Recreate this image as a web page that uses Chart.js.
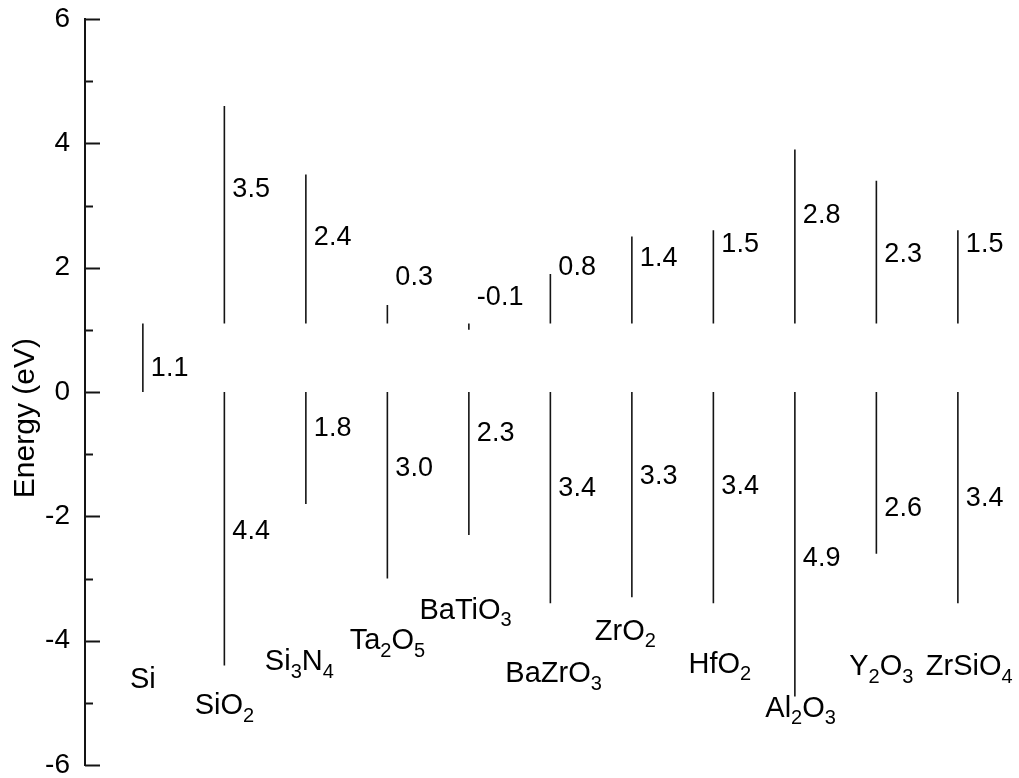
<!DOCTYPE html>
<html>
<head>
<meta charset="utf-8">
<script src="https://cdn.jsdelivr.net/npm/chart.js@4.4.1/dist/chart.umd.min.js"></script>
<style>
  body { margin: 0; background: #fff; }
  #wrap { width: 1019px; height: 778px; }
</style>
</head>
<body>
<div id="wrap"><canvas id="band-chart"></canvas></div>
<script>
    // band offsets relative to Si (eV)
    const materials = ["Si","SiO2","Si3N4","Ta2O5","BaTiO3","BaZrO3","ZrO2","HfO2","Al2O3","Y2O3","ZrSiO4"]
    const siGap = 1.1
    const cbOffset = [3.5, 2.4, 0.3, -0.1, 0.8, 1.4, 1.5, 2.8, 2.3, 1.5]
    const vbOffset = [4.4, 1.8, 3.0, 2.3, 3.4, 3.3, 3.4, 4.9, 2.6, 3.4]
    const yTicks = [-6, -4, -2, 0, 2, 4, 6]
    const yTitle = "Energy (eV)"

    // where the text sits (eV)
    const siTextAt = 0.42
    const cbTextAt = [3.29, 2.52, 1.87, 1.55, 2.03, 2.19, 2.4, 2.87, 2.24, 2.4]
    const vbTextAt = [-2.21, -0.55, -1.19, -0.63, -1.52, -1.32, -1.48, -2.65, -1.84, -1.68]
    const nameAt = [-4.6, -5.02, -4.31, -3.97, -3.48, -4.5, -3.82, -4.35, -5.06, -4.39, -4.39]
    const nameShift = [0, 0, -0.08, 0, -0.04, 0.04, -0.08, 0.08, 0.07, 0.06, 0.14]
    const titleAt = -0.42

    // build the line segments, null breaks between them
    const gapPts = [{x: 1, y: 0}, {x: 1, y: siGap}]
    const cbPts = []
    const vbPts = []
    cbOffset.forEach(function (off, i) {
        let x = i + 2
        cbPts.push({x: x, y: siGap}, {x: x, y: siGap + off}, {x: x, y: null})
        vbPts.push({x: x, y: 0}, {x: x, y: -vbOffset[i]}, {x: x, y: null})
    })

    const lineColor = "rgb(20,20,20)"
    const textColor = "rgb(0,0,0)"
    const fontFam = "'Liberation Sans', Arial, sans-serif"

    let drawFormula = function (ctx, text, cx, cy, size) {
        // digits become subscripts
        let parts = text.split(/(\d+)/).filter(function (p) { return p.length > 0 })
        let subSize = Math.round(size * 0.68)
        let total = 0
        parts.forEach(function (p) {
            ctx.font = (/\d/.test(p) ? subSize : size) + "px " + fontFam
            total += ctx.measureText(p).width
        })
        let x = cx - total / 2
        let base = cy + size * 0.358
        ctx.textAlign = "left"
        ctx.textBaseline = "alphabetic"
        parts.forEach(function (p) {
            let sub = /\d/.test(p)
            ctx.font = (sub ? subSize : size) + "px " + fontFam
            ctx.fillText(p, x, sub ? base + size * 0.26 : base)
            x += ctx.measureText(p).width
        })
    }

    const bandText = {
        id: "bandText",
        afterDatasetsDraw: function (chart) {
            const ctx = chart.ctx
            const xs = chart.scales.x
            const ys = chart.scales.y
            const area = chart.chartArea
            ctx.save()

            // inward ticks on the energy axis, minor ones at odd values
            ctx.strokeStyle = lineColor
            ctx.lineWidth = 2
            for (let v = -6; v <= 6; v++) {
                let py = Math.round(ys.getPixelForValue(v)) + 0.5
                let len = (v % 2 === 0) ? 15 : 8
                ctx.beginPath()
                ctx.moveTo(area.left, py)
                ctx.lineTo(area.left + len, py)
                ctx.stroke()
            }

            ctx.fillStyle = textColor

            // axis title, sits a little below the axis centre
            ctx.save()
            ctx.translate(26, ys.getPixelForValue(titleAt))
            ctx.rotate(-Math.PI / 2)
            ctx.font = "30px " + fontFam
            ctx.textAlign = "center"
            ctx.textBaseline = "middle"
            ctx.fillText(yTitle, 0, 0)
            ctx.restore()

            let numSize = 27
            let putNum = function (val, xv, yv) {
                ctx.font = numSize + "px " + fontFam
                ctx.textAlign = "left"
                ctx.textBaseline = "alphabetic"
                ctx.fillText(val.toFixed(1), xs.getPixelForValue(xv) + 8, ys.getPixelForValue(yv) + numSize * 0.358)
            }
            putNum(siGap, 1, siTextAt)
            cbOffset.forEach(function (off, i) {
                putNum(off, i + 2, cbTextAt[i])
                putNum(vbOffset[i], i + 2, vbTextAt[i])
            })

            materials.forEach(function (m, i) {
                drawFormula(ctx, m, xs.getPixelForValue(i + 1 + nameShift[i]), ys.getPixelForValue(nameAt[i]), 29)
            })
            ctx.restore()
        }
    }

    new Chart("band-chart",
        {
            type: "line",
            data: {
                datasets: [
                    { label: "Si gap", data: gapPts },
                    { label: "Conduction band offset", data: cbPts },
                    { label: "Valence band offset", data: vbPts }
                ]
            },
            options: {
                responsive: true,
                maintainAspectRatio: false,
                animation: false,
                spanGaps: false,
                layout: { padding: { top: 19, bottom: 13, left: 0, right: 0 } },
                elements: {
                    point: { radius: 0, hoverRadius: 0 },
                    line: { borderColor: lineColor, borderWidth: 1.6, tension: 0 }
                },
                plugins: {
                    legend: { display: false },
                    tooltip: { enabled: false }
                },
                scales: {
                    x: {
                        type: "linear",
                        display: false,
                        min: 0.29,
                        max: 11.75
                    },
                    y: {
                        type: "linear",
                        min: -6,
                        max: 6,
                        afterFit: function (scale) {
                            scale.width = 85
                            scale.paddingTop = 0
                            scale.paddingBottom = 0
                        },
                        afterBuildTicks: function (scale) {
                            scale.ticks = yTicks.map(function (v) { return { value: v } })
                        },
                        grid: { drawOnChartArea: false, drawTicks: false },
                        border: { display: true, color: lineColor, width: 2 },
                        ticks: {
                            padding: 15,
                            color: textColor,
                            font: { family: fontFam, size: 28 }
                        }
                    }
                }
            },
            plugins: [bandText]
        });
</script>
</body>
</html>
